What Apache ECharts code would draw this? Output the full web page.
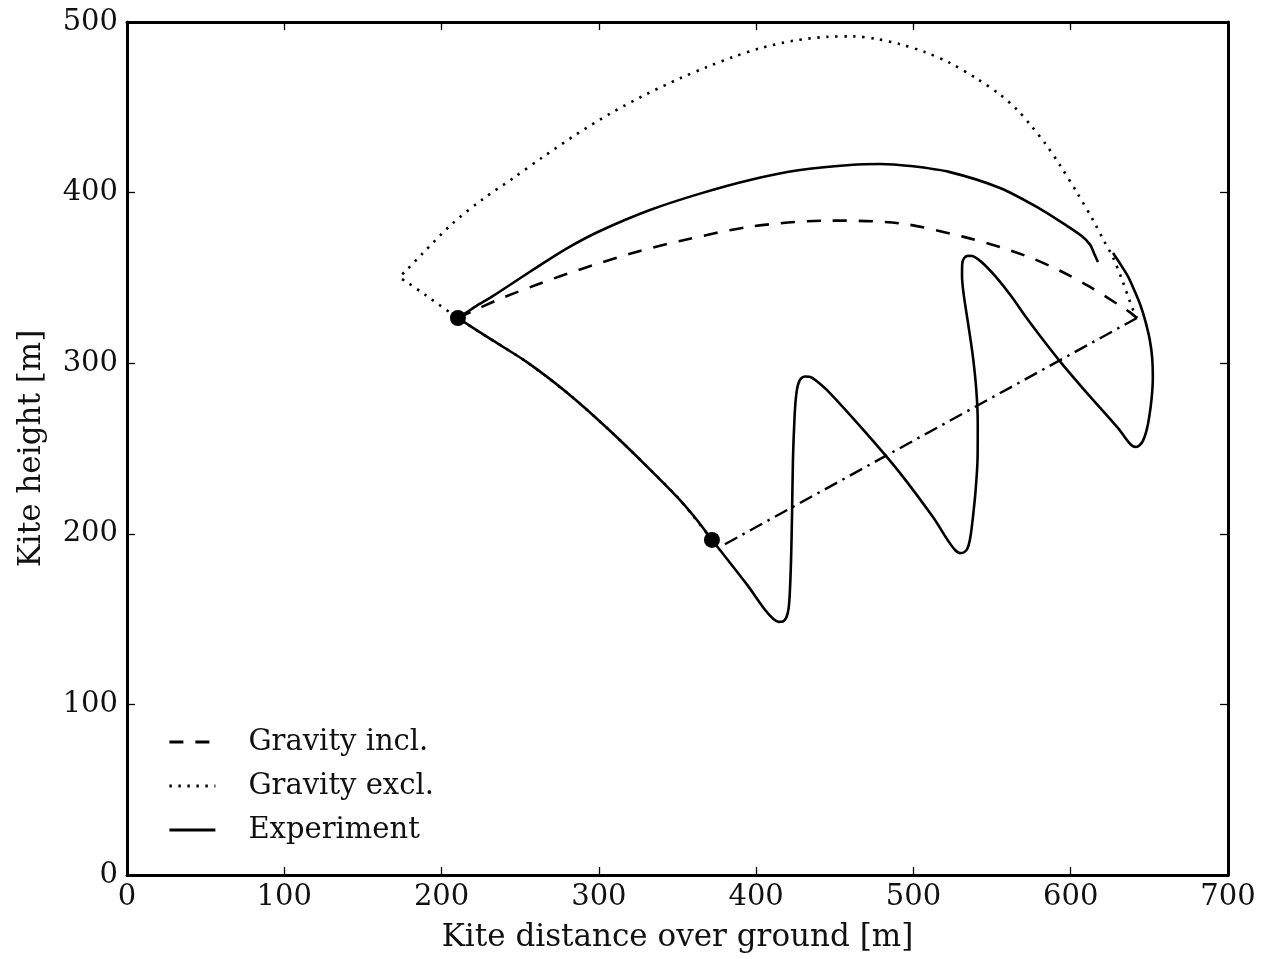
<!DOCTYPE html>
<html>
<head>
<meta charset="utf-8">
<script src="https://cdn.jsdelivr.net/npm/echarts@6/dist/echarts.min.js"></script>
<style>
  html, body { margin: 0; padding: 0; background: #fff; }
  #chart { width: 1262px; height: 959px; }
</style>
</head>
<body>
<div id="chart"></div>
<script>
// Kite trajectories in the vertical plane: measured flight vs. two simulations.
const xTicks = [0, 100, 200, 300, 400, 500, 600, 700];
const yTicks = [0, 100, 200, 300, 400, 500];

// Measured trajectory [distance, height] in metres, upper arc (ends at the first marked point)
const experimentArc = [
  [617.3, 359.3], [614.8, 364.5], [612.3, 369.5], [607.0, 374.5], [597.6, 380.5],
  [580.5, 390.5], [555.0, 402.7], [523.2, 412.0], [497.8, 415.6], [478.7, 416.8],
  [459.7, 416.2], [427.9, 413.2], [396.1, 407.4], [364.3, 399.4], [332.5, 389.8],
  [300.7, 377.5], [279.7, 367.3], [256.2, 353.6], [232.0, 339.0], [222.0, 333.5],
  [215.5, 329.5], [212.5, 327.5], [210.4, 326.5]
];

// Measured trajectory, descent from the first marked point and the figure-of-eight loops
const experimentLoops = [
  [210.4, 326.5], [230.0, 314.8], [254.3, 300.6], [280.0, 282.5], [305.2, 262.0],
  [330.0, 240.0], [351.6, 219.8], [362.0, 208.5], [371.9, 196.4], [377.0, 190.5],
  [394.2, 170.2], [406.0, 155.0], [411.0, 150.0], [414.2, 148.4], [417.0, 148.6],
  [419.2, 151.0], [420.6, 156.0], [421.4, 165.3], [422.2, 185.0], [422.8, 210.0],
  [423.4, 243.3], [424.4, 268.0], [425.3, 280.0], [426.5, 287.0], [428.3, 290.8],
  [431.0, 292.2], [434.0, 292.0], [438.0, 289.8], [446.9, 282.5], [470.0, 259.0],
  [491.5, 235.6], [512.4, 209.8], [522.0, 196.0], [526.5, 190.5], [529.6, 188.7],
  [532.3, 189.2], [534.4, 191.5], [536.0, 197.0], [537.4, 206.3], [539.5, 225.0],
  [540.8, 245.0], [540.9, 265.0], [540.0, 284.0], [537.8, 304.0], [534.7, 323.6],
  [532.0, 340.0], [530.9, 351.0], [531.0, 358.0], [532.2, 361.6], [534.6, 362.9],
  [537.4, 362.8], [541.0, 361.0], [546.0, 357.0], [553.0, 350.0], [562.0, 339.5],
  [572.0, 326.5], [583.0, 313.0], [595.0, 299.0], [608.0, 285.0], [621.0, 271.5],
  [630.5, 261.5], [636.5, 254.0], [639.2, 251.5], [641.5, 250.9], [643.8, 251.9],
  [645.9, 254.5], [648.2, 260.5], [650.0, 269.0], [651.5, 280.0], [652.2, 291.0],
  [651.8, 303.0], [650.2, 314.0], [647.5, 324.5], [644.5, 333.5], [641.0, 341.5],
  [636.8, 350.2], [632.0, 357.5], [626.9, 364.6]
];

// Simulation with gravity
const gravityIncl = [
  [210.4, 326.5], [215.0, 328.5], [224.4, 332.5], [240.0, 338.8], [260.0, 345.8],
  [280.0, 352.5], [300.0, 358.5], [325.0, 365.5], [351.6, 371.6], [396.0, 380.0],
  [447.0, 383.6], [491.4, 382.0], [531.5, 374.2], [555.0, 368.1], [576.0, 361.3],
  [593.2, 354.2], [612.3, 344.7], [630.0, 334.5], [637.7, 329.8], [642.1, 326.5]
];

// Simulation without gravity
const gravityExcl = [
  [371.9, 196.4], [351.6, 219.8], [330.0, 240.0], [305.2, 262.0], [280.0, 282.5],
  [254.3, 300.6], [230.0, 314.8], [210.4, 326.5], [190.0, 339.8], [178.0, 347.6],
  [173.6, 350.5], [177.0, 353.8], [188.2, 364.6], [207.3, 382.2], [226.3, 396.2],
  [245.4, 408.4], [264.5, 420.9], [286.1, 434.4], [307.1, 446.3], [330.0, 457.6],
  [351.6, 467.0], [368.7, 473.6], [385.3, 479.5], [402.4, 484.6], [423.4, 489.0],
  [445.0, 491.3], [461.6, 491.6], [477.0, 490.0], [491.4, 487.0], [507.0, 482.5],
  [523.2, 476.0], [540.0, 467.0], [555.0, 457.5], [566.0, 448.5], [575.0, 439.0],
  [584.0, 428.5], [593.2, 416.0], [604.0, 400.0], [614.1, 384.0], [621.0, 372.0],
  [626.9, 362.0], [633.0, 348.0], [637.5, 336.5], [640.2, 330.0], [642.1, 326.5]
];

// Straight chord back to the second marked point
const chord = [[642.1, 326.5], [377.0, 192.3]];

// Marked trajectory points
const markedPoints = [[210.4, 326.5], [371.9, 196.4]];

const FONT = 'DejaVu Serif';
const INK = '#111';

const chart = echarts.init(document.getElementById('chart'), null, { renderer: 'canvas' });

const frameLine = { show: true, onZero: false, lineStyle: { color: '#000', width: 3 } };
const innerTick = { show: true, inside: true, length: 8, lineStyle: { color: '#000', width: 1.3 } };

function curve(name, data, lineStyle, z, smooth) {
  return {
    name, type: 'line', data, showSymbol: false, symbol: 'none', smooth,
    lineStyle: Object.assign({ color: '#000', width: 2.6, join: 'round' }, lineStyle),
    itemStyle: { color: '#000' }, z
  };
}

chart.setOption({
  backgroundColor: '#fff',
  animation: false,
  grid: { left: 127, top: 22, right: 34, bottom: 84, containLabel: false },
  legend: {
    orient: 'vertical',
    left: 163,
    top: 722,
    itemWidth: 46,
    itemHeight: 14,
    itemGap: 14,
    data: ['Gravity incl.', 'Gravity excl.', 'Experiment'],
    itemStyle: { opacity: 0 },
    lineStyle: { width: 2.8 },
    textStyle: { fontFamily: FONT, fontSize: 29, color: INK, lineHeight: 30, padding: [0, 0, 0, 28] }
  },
  xAxis: [
    {
      type: 'value', position: 'bottom', min: 0, max: 700, interval: 100,
      axisLine: frameLine, axisTick: innerTick, splitLine: { show: false },
      axisLabel: {
        fontFamily: FONT, fontSize: 29, color: INK, margin: 8,
        formatter: v => (xTicks.includes(v) ? String(v) : '')
      },
      name: 'Kite distance over ground [m]', nameLocation: 'middle', nameGap: 47,
      nameTextStyle: { fontFamily: FONT, fontSize: 31, color: INK }
    },
    {
      type: 'value', position: 'top', min: 0, max: 700, interval: 100,
      axisLine: frameLine, axisTick: innerTick, splitLine: { show: false },
      axisLabel: { show: false }
    }
  ],
  yAxis: [
    {
      type: 'value', position: 'left', min: 0, max: 500, interval: 100,
      axisLine: frameLine, axisTick: innerTick, splitLine: { show: false },
      axisLabel: {
        fontFamily: FONT, fontSize: 29, color: INK, margin: 9,
        formatter: v => (yTicks.includes(v) ? String(v) : '')
      },
      name: 'Kite height [m]', nameLocation: 'middle', nameGap: 80, nameRotate: 90,
      nameTextStyle: { fontFamily: FONT, fontSize: 31, color: INK }
    },
    {
      type: 'value', position: 'right', min: 0, max: 500, interval: 100,
      axisLine: frameLine, axisTick: innerTick, splitLine: { show: false },
      axisLabel: { show: false }
    }
  ],
  series: [
    curve('Gravity excl.', gravityExcl, { type: [2.4, 6.6], cap: 'butt' }, 2, 0.3),
    curve('Gravity incl.', gravityIncl, { type: [14, 12] }, 3, 0.3),
    curve('chord', chord, { width: 2.4, type: [14, 6, 2.5, 6] }, 3, false),
    curve('Experiment', experimentArc, {}, 4, 0.3),
    curve('Experiment', experimentLoops, {}, 4, 0.3),
    {
      name: 'points', type: 'scatter', data: markedPoints, symbol: 'circle', symbolSize: 16,
      itemStyle: { color: '#000', opacity: 1 }, z: 5
    }
  ]
});
</script>
</body>
</html>
